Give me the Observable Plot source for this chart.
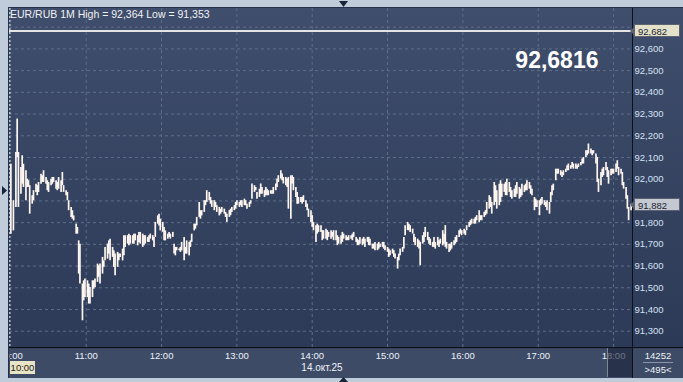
<!DOCTYPE html>
<html><head><meta charset="utf-8">
<script src="https://cdn.jsdelivr.net/npm/d3@7"></script>
<script src="https://cdn.jsdelivr.net/npm/@observablehq/plot@0.6"></script>
<style>
html,body{margin:0;padding:0;}
body{width:683px;height:382px;background:#c0ccda;position:relative;overflow:hidden;font-family:"Liberation Sans",Arial,sans-serif;}
#panel{position:absolute;left:8px;top:7px;width:675px;height:371px;background:linear-gradient(to bottom,#3f4e6c 0px,#2c3a57 340px,#3d4b67 341px,#3d4b67 100%);border-left:1px solid #26304a;border-top:1px solid #26304a;box-sizing:border-box;}
#chart{position:absolute;left:9px;top:8px;width:674px;height:370px;overflow:hidden;}
.abs{position:absolute;}
#hdr{left:10px;top:8px;font-size:10.5px;color:#f2f2f2;white-space:nowrap;}
.hline{position:absolute;background:#0b1019;}
.tag{position:absolute;left:634px;width:46px;height:13px;font-size:9.5px;line-height:13px;color:#1c2333;padding-left:3px;box-sizing:border-box;border:1px solid #5c6270;}
.tag:before{content:"";position:absolute;left:-5px;top:1px;border-top:5px solid transparent;border-bottom:5px solid transparent;border-right:5px solid #5c6270;}
.tri{position:absolute;background:#1a2438;}
</style></head>
<body>
<div id="panel"></div>
<div id="chart"></div>
<script>
// ---- data ----
const pair = "EUR/RUB";
const period = "1M";
const dayHigh = 92.364;
const dayLow = 91.353;
const lastQuote = 92.6816;
const askLevel = 92.682;
const bidLevel = 91.882;
const dateLabel = "14.окт.25";
const startLabel = "10:00";
const volumeLabel = "14252";
const countLabel = ">495<";
const hourTicks = [0,60,120,180,240,300,360,420,480];
const hourLabels = ["10:00","11:00","12:00","13:00","14:00","15:00","16:00","17:00","18:00"];
const yTicks = [91.3,91.4,91.5,91.6,91.7,91.8,91.9,92.0,92.1,92.2,92.3,92.4,92.5,92.6,92.7];
// minutes after 10:00
const minutes = [0,2,4,5,6,8,9,10,12,13,14,15,17,18,20,21,22,24,25,26,28,29,30,32,33,34,36,37,38,40,41,42,44,45,46,48,49,50,52,53,54,55,57,58,59,61,62,63,65,66,67,69,70,71,73,74,75,77,78,79,81,82,83,85,86,87,89,90,91,93,94,95,97,98,99,101,102,103,105,106,107,109,110,111,113,114,115,117,118,119,121,122,123,125,126,127,129,130,131,132,134,135,136,138,139,140,142,143,144,146,147,148,150,151,152,154,155,156,158,159,160,162,163,164,166,167,
168,170,171,172,174,175,176,178,179,180,182,183,184,186,187,188,190,191,192,194,195,196,198,199,200,202,203,204,205,207,208,209,211,212,213,215,216,217,219,220,221,223,224,225,227,228,229,231,232,233,235,236,237,239,240,241,243,244,245,247,248,249,251,252,253,255,256,257,259,260,261,263,264,265,267,268,269,271,272,273,275,276,277,278,280,281,282,284,285,286,288,289,290,292,293,294,296,297,298,300,301,302,304,305,306,308,309,310,312,313,314,316,317,318,320,321,322,324,325,326,328,329,330,332,333,334,336,
337,338,340,341,342,344,345,346,347,349,350,351,353,354,355,357,358,359,361,362,363,365,366,367,369,370,371,373,374,375,377,378,379,381,382,383,385,386,387,389,390,391,393,394,395,397,398,399,401,402,403,405,406,407,409,410,411,413,414,415,417,418,419,421,422,423,425,426,427,429,430,431,432,434,435,436,438,439,440,442,443,444,446,447,448,450,451,452,454,455,456,458,459,460,462,463,464,466,467,468,470,471,472,474,475,476,478,479,480,482,483,484,486,487,488,490,491,492,494];
const highs = [92.069,91.901,92.123,92.277,92.123,92.054,92.108,92.069,92.039,92.000,91.993,91.970,91.924,91.947,91.977,91.970,91.985,92.023,92.016,92.039,92.008,91.993,91.985,92.000,92.008,92.008,91.993,91.985,92.008,91.993,92.031,91.970,91.947,91.939,91.901,91.870,91.855,91.831,91.793,91.778,91.716,91.701,91.517,91.532,91.540,91.532,91.517,91.501,91.532,91.532,91.540,91.609,91.601,91.609,91.640,91.624,91.686,91.701,91.716,91.724,91.686,91.670,91.655,91.663,91.655,91.655,91.678,91.740,91.740,91.740,91.747,91.740,91.740,91.747,91.747,91.740,91.755,91.755,91.747,91.740,91.740,91.732,91.740,91.747,91.740,91.732,91.801,91.831,91.839,91.816,91.801,91.778,91.762,91.747,91.755,91.747,91.755,91.701,91.686,91.686,91.678,91.686,91.709,91.732,91.686,91.716,91.709,91.716,91.747,91.793,91.793,91.824,91.893,91.855,91.855,91.901,91.901,91.947,91.939,91.916,91.901,91.901,91.893,91.878,91.870,91.862,
91.870,91.862,91.847,91.839,91.855,91.862,91.870,91.878,91.893,91.901,91.893,91.901,91.901,91.908,91.901,91.885,91.893,91.901,91.978,91.970,91.962,91.939,91.954,91.978,91.962,91.947,91.962,91.954,91.947,91.947,91.947,91.962,91.978,92.001,92.016,92.039,92.024,92.008,92.008,92.001,92.008,92.016,92.016,92.008,91.962,91.939,91.916,91.916,91.916,91.924,91.901,91.885,91.862,91.855,91.832,91.801,91.786,91.793,91.786,91.786,91.763,91.763,91.770,91.763,91.755,91.763,91.755,91.763,91.763,91.740,91.732,91.740,91.755,91.747,91.740,91.732,91.740,91.740,91.747,91.755,91.732,91.724,91.717,91.732,91.724,91.732,91.724,91.732,91.732,91.724,91.701,91.701,91.709,91.701,91.709,91.701,91.709,91.709,91.694,91.686,91.678,91.671,91.678,91.671,91.655,91.640,91.655,91.678,91.686,91.732,91.786,91.801,91.793,91.786,91.770,91.747,91.732,91.724,91.717,91.709,91.740,91.755,91.778,91.755,91.732,91.724,91.709,
91.732,91.709,91.732,91.716,91.724,91.763,91.747,91.786,91.709,91.701,91.701,91.709,91.716,91.732,91.740,91.763,91.770,91.763,91.770,91.763,91.786,91.801,91.809,91.816,91.816,91.824,91.832,91.855,91.832,91.832,91.847,91.855,91.893,91.924,91.916,91.893,91.985,91.970,91.947,91.977,91.993,91.977,91.977,91.985,92.000,91.985,91.962,91.947,91.954,91.970,91.985,91.962,91.954,91.977,91.970,91.977,91.993,91.985,91.970,91.954,91.916,91.908,91.901,91.901,91.908,91.916,91.901,91.893,91.901,91.893,91.939,91.970,91.977,92.046,92.046,92.046,92.039,92.031,92.039,92.046,92.062,92.070,92.062,92.077,92.070,92.070,92.062,92.070,92.077,92.093,92.100,92.131,92.131,92.162,92.139,92.131,92.131,92.116,92.100,92.000,92.031,92.046,92.054,92.077,92.054,92.039,92.046,92.046,92.046,92.070,92.085,92.054,92.046,92.031,91.985,91.962,91.924,91.870,91.885];
const lows = [91.747,91.762,91.870,92.100,91.870,91.931,91.977,91.962,91.901,91.962,91.962,91.839,91.885,91.901,91.939,91.924,91.939,91.977,91.985,91.985,91.977,91.947,91.939,91.970,91.977,91.985,91.954,91.947,91.954,91.939,91.970,91.939,91.924,91.901,91.855,91.824,91.816,91.808,91.747,91.747,91.563,91.517,91.348,91.440,91.455,91.455,91.425,91.425,91.455,91.494,91.501,91.525,91.548,91.517,91.563,91.594,91.624,91.632,91.655,91.624,91.640,91.594,91.555,91.594,91.624,91.640,91.624,91.647,91.686,91.701,91.693,91.701,91.701,91.701,91.716,91.693,91.709,91.701,91.686,91.693,91.701,91.709,91.709,91.724,91.716,91.686,91.732,91.793,91.785,91.762,91.755,91.716,91.716,91.724,91.732,91.724,91.732,91.655,91.647,91.670,91.670,91.663,91.670,91.624,91.655,91.655,91.647,91.686,91.709,91.762,91.770,91.785,91.824,91.816,91.831,91.847,91.878,91.893,91.901,91.885,91.870,91.855,91.870,91.847,91.831,91.839,
91.847,91.839,91.824,91.801,91.824,91.832,91.847,91.855,91.862,91.878,91.870,91.878,91.870,91.878,91.878,91.862,91.870,91.885,91.908,91.939,91.947,91.908,91.916,91.931,91.931,91.916,91.924,91.924,91.924,91.931,91.931,91.931,91.947,91.962,91.985,92.001,91.993,91.978,91.970,91.962,91.862,91.816,91.978,91.947,91.916,91.885,91.885,91.893,91.885,91.893,91.870,91.855,91.824,91.801,91.778,91.763,91.709,91.747,91.755,91.755,91.717,91.724,91.724,91.717,91.732,91.724,91.732,91.717,91.717,91.694,91.701,91.701,91.709,91.724,91.717,91.717,91.717,91.724,91.717,91.732,91.709,91.694,91.694,91.701,91.694,91.701,91.686,91.709,91.694,91.694,91.678,91.678,91.671,91.671,91.678,91.686,91.686,91.678,91.671,91.663,91.640,91.648,91.655,91.640,91.632,91.586,91.624,91.648,91.663,91.678,91.740,91.763,91.763,91.755,91.747,91.709,91.694,91.686,91.678,91.601,91.701,91.709,91.732,91.717,91.701,91.694,91.686,
91.686,91.678,91.693,91.686,91.701,91.693,91.701,91.686,91.678,91.663,91.670,91.678,91.693,91.701,91.709,91.732,91.747,91.740,91.747,91.740,91.763,91.778,91.786,91.793,91.793,91.793,91.809,91.801,91.809,91.809,91.824,91.832,91.839,91.862,91.870,91.839,91.878,91.893,91.862,91.878,91.893,91.916,91.939,91.924,91.924,91.939,91.916,91.908,91.916,91.916,91.931,91.908,91.916,91.924,91.939,91.947,91.947,91.954,91.931,91.924,91.855,91.870,91.870,91.832,91.878,91.885,91.878,91.870,91.855,91.839,91.893,91.924,91.947,91.993,92.023,92.023,92.016,92.008,92.016,92.031,92.039,92.039,92.046,92.054,92.046,92.046,92.046,92.054,92.062,92.070,92.070,92.100,92.108,92.116,92.116,92.108,92.116,92.070,91.985,91.939,91.970,92.008,92.016,92.039,92.008,91.977,92.016,92.023,92.023,92.031,92.046,92.016,92.023,91.970,91.954,91.908,91.862,91.809,91.855];

const bars = minutes.map((t, i) => ({t, high: highs[i], low: lows[i]}));
const comma = (v, n) => v.toFixed(n).replace(".", ",");

const chart = Plot.plot({
  width: 674, height: 370,
  marginLeft: 0, marginRight: 51, marginTop: 0, marginBottom: 31,
  style: {background: "transparent", fontFamily: "Liberation Sans, Arial, sans-serif", fontSize: "9.5px"},
  x: {domain: [-1.1, 495.1]},
  y: {domain: [91.225, 92.786]},
  marks: [
    Plot.gridY(yTicks, {stroke: "#5e6e89", strokeOpacity: 1, strokeDasharray: "3,3"}),
    Plot.gridX(hourTicks.slice(1), {stroke: "#5e6e89", strokeOpacity: 1, strokeDasharray: "3,3"}),
    Plot.ruleX([0], {stroke: "#ffffff", strokeDasharray: "2,2", dx: -1}),
    Plot.ruleY([askLevel], {stroke: "#e4e4e4", strokeWidth: 2}),
    Plot.ruleX(bars, {x: "t", y1: "low", y2: "high", stroke: "#fff6f0", strokeWidth: 1.7}),
    Plot.text([lastQuote], {text: d => comma(d, 4), frameAnchor: "top-right", dx: -34, dy: 52, lineAnchor: "middle", fontSize: 23, fontWeight: "bold", fill: "#ffffff"}),
    Plot.axisY(yTicks, {anchor: "right", tickSize: 0, tickPadding: 2, tickFormat: d => comma(d, 3), color: "#d4e0f2", label: null}),
    Plot.axisX(hourTicks, {anchor: "bottom", tickSize: 0, tickPadding: 5, tickFormat: d => hourLabels[hourTicks.indexOf(d)], color: "#eef2f8", label: null})
  ]
});
document.getElementById("chart").appendChild(chart);

const ys = chart.scale("y");
const body = document.body;
function add(html, css, cls) {
  const d = document.createElement("div");
  d.className = cls || "abs";
  d.innerHTML = html;
  Object.assign(d.style, css);
  body.appendChild(d);
  return d;
}
// header
const h = add(`${pair} ${period} High = ${comma(dayHigh,3)} Low = ${comma(dayLow,3)}`, {}, "abs");
h.id = "hdr";
// frame lines
add("", {left: "9px", top: "347px", width: "674px", height: "1px"}, "hline");
add("", {left: "632px", top: "8px", width: "1px", height: "370px"}, "hline");
// scroll thumb
add("", {left: "607px", top: "348px", width: "25px", height: "29px", background: "rgba(28,36,56,0.62)", borderLeft: "1px solid #7c8798", boxSizing: "border-box"}, "abs");
// value tags
const askY = 8 + ys.apply(askLevel);
add(comma(askLevel, 3), {top: (askY - 6.5) + "px", background: "#e3e1c9"}, "tag");
const bidY = 8 + ys.apply(bidLevel);
add(comma(bidLevel, 3), {top: (bidY - 6.5) + "px", background: "#c3c8d1"}, "tag");
// bottom labels
add(startLabel, {left: "10px", top: "361px", width: "25px", height: "13px", background: "#e8e4c7", color: "#2a2010", fontSize: "9.5px", lineHeight: "13px", textAlign: "center"}, "abs");
add(dateLabel, {left: "287px", top: "361px", width: "70px", textAlign: "center", fontSize: "10px", lineHeight: "13px", color: "#eef2f8"}, "abs");
add(volumeLabel, {left: "643px", top: "349px", width: "30px", fontSize: "9.5px", lineHeight: "13px", color: "#eef2f8", textAlign: "center"}, "abs");
add("", {left: "643px", top: "362px", width: "30px", height: "1px", background: "#8a96a8"}, "abs");
add(countLabel, {left: "641px", top: "363px", width: "34px", fontSize: "9.5px", lineHeight: "13px", color: "#eef2f8", textAlign: "center"}, "abs");
// triangles
add("", {left: "339px", top: "1px", width: "9px", height: "6px", clipPath: "polygon(0 0,100% 0,50% 100%)"}, "tri");
add("", {left: "339px", top: "377px", width: "9px", height: "5px", clipPath: "polygon(50% 0,100% 100%,0 100%)"}, "tri");
add("", {left: "2px", top: "186px", width: "5px", height: "9px", clipPath: "polygon(0 0,100% 50%,0 100%)"}, "tri");
</script>
</body></html>
